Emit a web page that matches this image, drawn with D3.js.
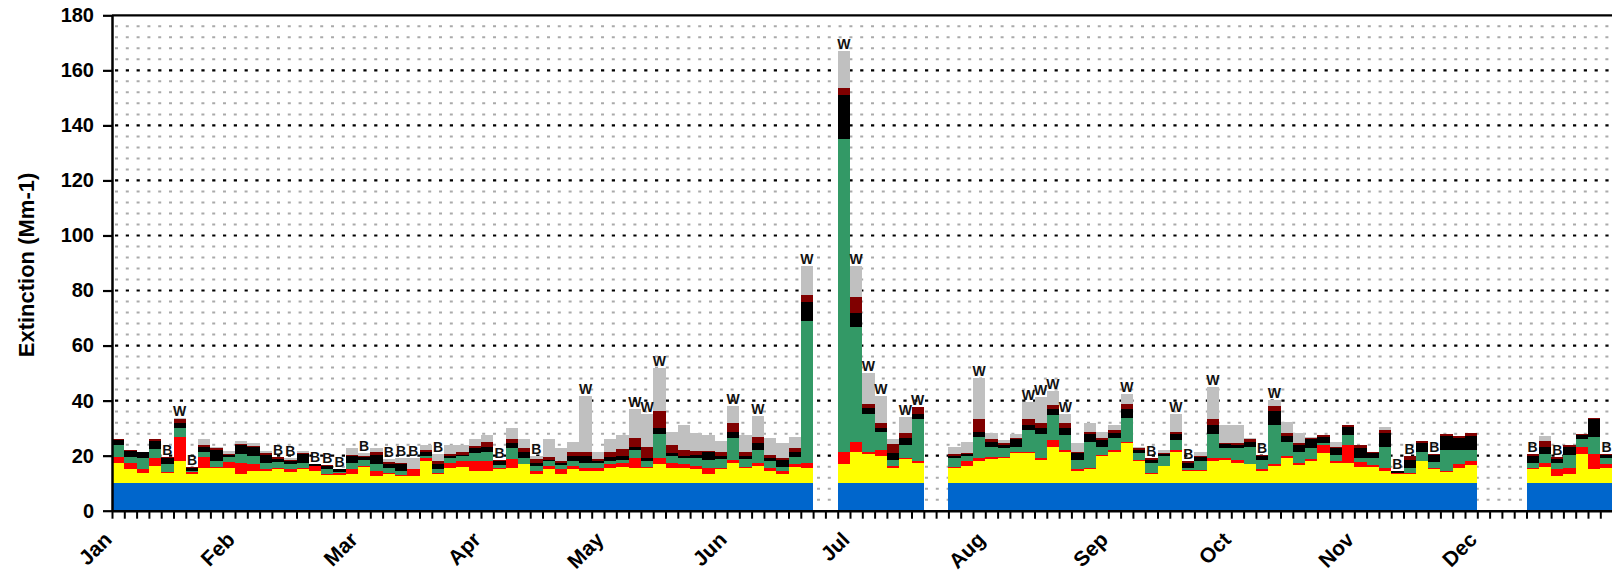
<!DOCTYPE html>
<html>
<head>
<meta charset="utf-8" />
<title></title>
<style>
html, body {
    margin: 0px;
    padding: 0px;
    background: #fff;
}
svg text {
    font-family: "Liberation Sans", Arial, sans-serif;
}
</style>
</head>
<body>
<div id="chart"></div>

<script src="https://d3js.org/d3.v7.min.js"></script>
<script>
// one sample every third day, 122 samples; null = no sample
var rayleigh = [10,10,10,10,10,10,10,10,10,10, 10,10,10,10,10,10,10,10,10,10, 10,10,10,10,10,10,10,10,10,10,
    10,10,10,10,10,10,10,10,10,10, 10,10,10,10,10,10,10,10,10,10, 10,10,10,10,10,10,10,null,null,10,
    10,10,10,10,10,10,null,null,10,10, 10,10,10,10,10,10,10,10,10,10, 10,10,10,10,10,10,10,10,10,10,
    10,10,10,10,10,10,10,10,10,10, 10,10,10,10,10,10,10,10,10,10, 10,null,null,null,null,10,10,10,10,10, 10,10]

var sulfate = [7.4,5,3.8,6.2,3.8,8.2,3.2,5.6,5.6,5.6, 3.2,4.6,4.6,5.2,4.2,5,4.6,3,3,3.2,
    5.8,2.6,3.2,2.6,2.6,8,3.2,5.6,5.8,4.6, 4.4,5,5.6,6.8,3.2,5,3.2,5,4.4,4.4,
    5.6,5.8,5.6,5.6,6.8,5.6,5.4,5,3.2,5, 7.4,5.6,6.2,4.4,3.2,5.8,5.6,null,null,6.8,
    11.5,10.6,9.8,5.6,8.9,7.4,null,null,5.6,6.2, 8,8.9,9.2,11,11,8.6,13.3,11.5,4.6,5,
    9.8,11.5,14.5,8,3.2,6.2,11.5,4.4,4.4,8, 8.6,7.4,6.8,4.6,6.2,9.2,6.5,8,11,7.4,
    7.4,5.8,5.8,4.6,3.2,3.2,8,5,4.2,5.4, 6.5,null,null,null,null,5,5.8,2.6,3.2,10.5, 5,5.6]

var nitrate = [2.1,2.4,1.2,3,0.4,8.7,1,3.8,0.3,2, 4.2,2.2,0.4,0.4,0.8,0.6,1.6,0.5,0.6,1.8,
    0.4,1.8,0.4,0.2,2.4,1.2,0.4,1.8,2.2,3.4, 3.6,0.6,3.2,0.3,1.2,1.2,1.8,1.2,1,1.2,
    1.2,1.6,3.6,0.3,2.4,1.8,1.4,1.2,2.4,0.6, 1.2,0.3,1.2,1.2,1.2,1,1.8,null,null,4.7,
    3.6,0.7,2.3,0.6,0.3,0.6,null,null,0.3,1.8, 1.2,0.5,0.2,0.5,0.5,0.6,2.4,0.6,0.4,0.6,
    0.6,0.6,0.6,0.6,0.4,0.2,0.6,0.4,0.3,1.2, 0.6,1.2,0.3,0.4,0.8,0.6,0.9,0.9,2.7,0.8,
    6.5,1.9,0.7,1,0.4,0.4,0.2,0.6,0.4,1.6, 1.7,null,null,null,null,0.6,1.6,2.4,2.4,2.5, 5.5,1.2]

var organics = [4.5,2,4,3.3,2.9,3,0.3,1.9,2.1,1.9, 3.2,3,2.4,2.1,1.8,1.8,0.2,1.5,0.6,2.4,
    2.4,2.7,1.8,1.8,0,0.8,1.4,1.8,1.8,2.8, 3.5,0.9,3.9,2.1,1.8,1.8,1.5,1.8,2,1.8,
    1.2,1.2,2.9,2.3,8.5,2.6,2.4,3,3,3.2, 7.7,3,4.7,2.4,1.4,2.6,51.6,null,null,113.5,
    41.5,13.9,6.6,2.4,4.7,15.5,null,null,3.3,1.8, 7.7,3.9,3.3,1.8,7.8,8.5,8.9,5.4,3.6,9.5,
    2.9,4.4,8.6,2.4,3.8,3.4,3.6,0.8,3.3,8.5, 3.4,4,6.2,3.6,14.1,5.3,3.9,3.8,0.8,2.2,
    3.6,1.5,2.7,7.7,0.2,2,3.1,2.1,7.5,5.1, 3.9,null,null,null,null,1.8,3.2,2.4,4.5,3, 6.2,2.4]

var lac = [1.7,2.3,2.2,3,2,1.8,1,2,4.1,0.9, 3.1,3.3,2.7,1.1,1.4,3.2,0.4,1.4,0.8,2.4,
    0.8,3.3,1.7,2.2,0,1.4,2.1,0.8,0.6,1.8, 1.8,1.5,1.8,2.1,1.2,0.6,0.9,1.8,2.4,0.6,
    1.5,1.2,1,1,2.2,1,0.8,1.2,2.9,1, 2.4,0.9,2.4,1.2,2.8,2.1,7,null,null,16.2,
    5.4,2.1,1.2,2.4,2.4,1.7,null,null,0.6,0.8, 1.8,1.8,1,2.7,1.8,2.2,2.4,2.4,2.4,2.6,
    2.4,1.6,3.1,1.1,1.2,0.8,2,1.8,1.4,3.4, 1.6,1.3,1.8,1.2,5.3,2.2,2.4,3.4,2.4,2.2,
    3,3.5,1.8,4.8,0.6,3,3.2,2.4,5.2,4.2, 5.2,null,null,null,null,2.4,2.7,1.5,3.2,1.6, 6.6,1.2]

var soil = [0.3,0.3,0.2,0.6,0.3,1.5,0.4,0.4,0.6,0.2, 0.5,0.5,0.9,0.6,0.4,0.4,0.2,0.2,0.3,0.6,
    0.4,1,0.6,0.6,0,0.5,0.9,0.6,1,1, 1.5,0.6,1.5,1.4,1.4,0.9,0.8,1.7,1.5,0.8,
    2,2.7,3.4,4.1,6.2,2.9,2.1,1.4,0.3,1.5, 3,1.7,2.4,1.2,0.6,1.2,2.5,null,null,2.3,
    5.8,1.5,1.8,3.2,1.8,2.4,null,null,0.8,0.4, 4.5,1,0.8,0.5,2.1,1.8,1.5,1.8,0.4,0.8,
    0.6,1.2,2,0.6,0.6,0.4,1,0.6,0.4,2.4, 0.4,0.6,1,0.6,1.8,0.8,0.8,0.4,0.6,0.5,
    0.8,1,0.5,1.2,0.2,1.2,0.9,0.5,0.6,1, 0.8,null,null,null,null,0.8,2.1,0.5,0.4,0.3, 0.3,0.3]

var coarse = [0,0,0,0,0,0.5,0,2.5,0.6,1.1, 1,1,0.6,0,0.4,0.8,0,0,0,2.3,
    1.2,1.4,1,1.8,4,2.1,2.6,3.4,2.6,2.4, 2.7,0,3.9,3.3,1,6.5,4.5,3.6,20.5,2.7,
    4.5,5,10.5,11.9,15.8,4.8,9.2,6.3,5.7,4.1, 6.5,6,7.5,5.9,5.3,4.2,10.5,null,null,13.5,
    11.2,11.3,10.1,1.8,5.9,0,null,null,2.7,3.9, 15.1,2,1.2,1.2,6.2,9.5,5.1,3.5,3.1,3.5,
    2.4,1.8,3.6,0.3,0,1.1,6.5,0,1.7,11.6, 6.5,6.6,0.4,0,2.2,4.2,3.6,0.2,0,1.8,
    0,0,0,1.2,0,0,0,0,0,0, 0,null,null,null,null,0,1.9,0,0,0, 0,0]

// samples flagged above the bar
var flagW = [5,38,42,43,44,50,52,56,59,60,61,62,64,65,70,74,75,76,77,82,86,89,94]
var flagB = [4,6,13,14,16,17,18,20,22,23,24,26,31,34,84,87,93,104,105,107,115,117,121]

var months = ["Jan","Feb","Mar","Apr","May","Jun","Jul","Aug","Sep","Oct","Nov","Dec"]
var monthSample = [0,10,20,30,40,50,60,71,81,91,101,111]

var yTicks = [0,20,40,60,80,100,120,140,160,180]

!(function(){
    "use strict"

    var width = 1612, height = 575
    var nSamples = rayleigh.length

    var keys = ["rayleigh","sulfate","nitrate","organics","lac","soil","coarse"]
    var colors = {
        rayleigh: "#0066cc", sulfate: "#ffff00", nitrate: "#ff0000",
        organics: "#339966", lac: "#000000", soil: "#800000", coarse: "#c0c0c0"
    }
    var series = {rayleigh:rayleigh, sulfate:sulfate, nitrate:nitrate,
        organics:organics, lac:lac, soil:soil, coarse:coarse}

    var rows = []
    for (var i = 0; i < nSamples; i++) {
        if (rayleigh[i] == null) continue
        var r = {i: i}
        keys.forEach(function(k){ r[k] = series[k][i] })
        rows.push(r)
    }

    var svg = d3.select("#chart").append("svg")
        .attr("width", width)
        .attr("height", height)

    var xi = d3.scaleLinear().domain([0, nSamples]).range([112, 112 + nSamples * 12.3])
    var y = d3.scaleLinear().domain([0, 180]).range([510.7, 15.3])

    // grid
    var minor = d3.range(4, 180, 4).filter(function(v){ return v % 20 })
    svg.append("g").selectAll("line")
        .data(minor).enter().append("line")
        .attr("x1", xi(0) + 3).attr("x2", width)
        .attr("y1", y).attr("y2", y)
        .attr("stroke", "#aaa")
        .attr("stroke-width", 2)
        .attr("stroke-dasharray", "3 7.8")

    svg.append("g").selectAll("line")
        .data(yTicks.filter(function(v){ return v > 0 && v < 180 })).enter().append("line")
        .attr("x1", xi(0) + 3).attr("x2", width)
        .attr("y1", y).attr("y2", y)
        .attr("stroke", "#000")
        .attr("stroke-width", 2.2)
        .attr("stroke-dasharray", "3.2 7.6")

    // bars, snapped to whole pixels so neighbours tile without seams
    var bx = function(i){ return Math.round(xi(i)) }
    var stacked = d3.stack().keys(keys)(rows)
    svg.append("g").attr("shape-rendering", "crispEdges")
        .selectAll("g")
        .data(stacked).enter().append("g")
        .attr("fill", function(d){ return colors[d.key] })
        .selectAll("rect")
        .data(function(d){ return d }).enter().append("rect")
        .attr("x", function(d){ return bx(d.data.i) })
        .attr("width", function(d){ return bx(d.data.i + 1) - bx(d.data.i) })
        .attr("y", function(d){ return Math.round(y(d[1])) })
        .attr("height", function(d){ return Math.max(0, Math.round(y(d[0])) - Math.round(y(d[1]))) })

    // flags
    var total = function(i){ return d3.sum(keys, function(k){ return series[k][i] }) }
    var flags = flagW.map(function(i){ return {i:i, t:"W"} })
        .concat(flagB.map(function(i){ return {i:i, t:"B"} }))
    svg.append("g").selectAll("text")
        .data(flags).enter().append("text")
        .attr("x", function(d){ return xi(d.i + 0.5) })
        .attr("y", function(d){ return y(total(d.i)) - 2 })
        .attr("text-anchor", "middle")
        .attr("font-size", 14)
        .attr("font-weight", "bold")
        .attr("fill", "#111")
        .text(function(d){ return d.t })

    // top border
    svg.append("line")
        .attr("x1", xi(0)).attr("x2", width)
        .attr("y1", y(180)).attr("y2", y(180))
        .attr("stroke", "#000").attr("stroke-width", 2.2)

    // y axis
    var yAxis = svg.append("g")
        .attr("transform", "translate(" + xi(0) + ",0)")
        .call(d3.axisLeft(y).tickValues(yTicks).tickSize(9).tickSizeOuter(0).tickPadding(9))
    yAxis.select(".domain").attr("stroke-width", 2.5)
    yAxis.selectAll(".tick line").attr("stroke-width", 2.2)
    yAxis.selectAll("text")
        .attr("font-size", 20)
        .attr("font-weight", "bold")
        .attr("font-family", "Liberation Sans, Arial, sans-serif")
        .attr("fill", "#000")

    // x axis: one tick per sample
    var xAxis = svg.append("g")
        .attr("transform", "translate(0," + y(0) + ")")
        .call(d3.axisBottom(xi).tickValues(d3.range(0, nSamples + 1)).tickFormat("").tickSize(8).tickSizeOuter(0))
    xAxis.select(".domain").attr("stroke-width", 2.5)
    xAxis.selectAll(".tick line").attr("stroke-width", 2)

    svg.append("g").selectAll("text")
        .data(months).enter().append("text")
        .attr("transform", function(d, k){
            return "translate(" + (xi(monthSample[k]) + 1) + ",541) rotate(-45)"
        })
        .attr("text-anchor", "end")
        .attr("font-size", 21)
        .attr("font-weight", "bold")
        .text(function(d){ return d })

    svg.append("text")
        .attr("transform", "translate(34,265) rotate(-90)")
        .attr("text-anchor", "middle")
        .attr("font-size", 22)
        .attr("font-weight", "bold")
        .text("Extinction (Mm-1)")

}());
</script>
</body>
</html>
